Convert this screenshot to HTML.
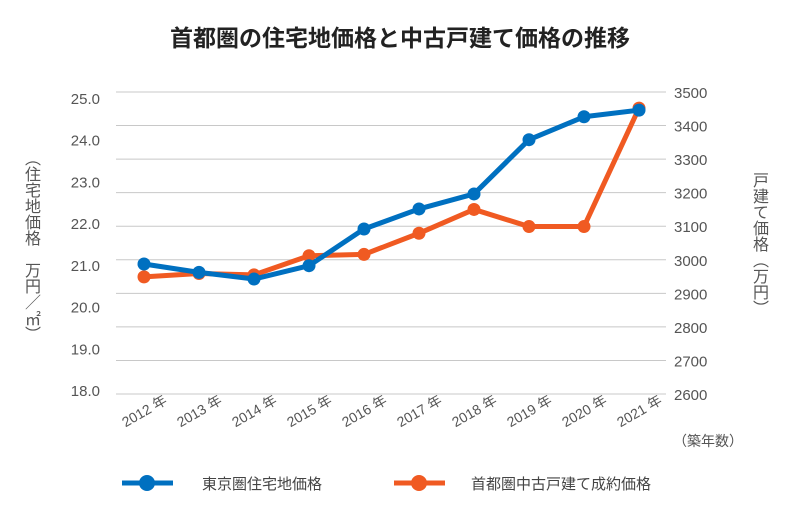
<!DOCTYPE html>
<html><head><meta charset="utf-8"><style>
body{margin:0;background:#fff;position:relative;width:800px;height:510px;overflow:hidden;}
svg text{font-family:"Liberation Sans","Noto Sans CJK JP",sans-serif;}
.vt{position:absolute;writing-mode:vertical-rl;text-orientation:upright;font-family:"Liberation Sans","Noto Sans CJK JP",sans-serif;color:#555;font-size:16px;line-height:20px;white-space:nowrap;}
</style></head><body>
<svg width="800" height="510" viewBox="0 0 800 510" style="position:absolute;left:0;top:0">
<text x="400" y="46" text-anchor="middle" font-size="23" font-weight="bold" fill="#222">首都圏の住宅地価格と中古戸建て価格の推移</text>
<g id="grid"></g>
<g id="ticks"></g>
<g id="series"></g>
<text x="708" y="446" text-anchor="middle" font-size="14" fill="#555">（築年数）</text>
<g>
<line x1="122" y1="483" x2="173" y2="483" stroke="#0070C0" stroke-width="5"/>
<circle cx="147" cy="483" r="8" fill="#0070C0"/>
<text x="202" y="489" font-size="15" fill="#444">東京圏住宅地価格</text></g>
<g>
<line x1="394" y1="483" x2="445" y2="483" stroke="#F05A22" stroke-width="5"/>
<circle cx="419" cy="483" r="8" fill="#F05A22"/>
<text x="471" y="489" font-size="15" fill="#444">首都圏中古戸建て成約価格</text></g>
</svg>
<div class="vt" style="left:20px;top:150px;">（住宅地価格　万円／㎡）</div>
<div class="vt" style="left:748px;top:172px;">戸建て価格（万円）</div>
<script>
const years=["2012 年","2013 年","2014 年","2015 年","2016 年","2017 年","2018 年","2019 年","2020 年","2021 年"];
const landPrice=[21.02,20.82,20.66,20.98,21.86,22.34,22.70,24.0,24.55,24.71];
const housePrice=[2949,2959,2955,3012,3016,3079,3150,3099,3099,3452];
const leftTicks=[18,19,20,21,22,23,24,25];
const rightTicks=[2600,2700,2800,2900,3000,3100,3200,3300,3400,3500];
const NS="http://www.w3.org/2000/svg";
const X0=116,X1=666,Y0=394,Y1=92;
const LY0=390,LY1=98;
const xp=i=>144+i*(639-144)/(years.length-1);
const yl=v=>LY0-(v-18)/(25-18)*(LY0-LY1);
const yr=v=>Y0-(v-2600)/(3500-2600)*(Y0-Y1);
function mk(t,a,p){const e=document.createElementNS(NS,t);for(const k in a)e.setAttribute(k,a[k]);p.appendChild(e);return e;}
const grid=document.getElementById('grid'),ticks=document.getElementById('ticks'),ser=document.getElementById('series');
rightTicks.forEach(v=>{
 const l=mk('line',{x1:X0,x2:X1,y1:yr(v),y2:yr(v),stroke:'#c8c8c8','stroke-width':1},grid);
 
 
 const t=mk('text',{x:674,y:yr(v)+6,'font-size':15,fill:'#555'},ticks);
 t.textContent=v;
 
 
});
leftTicks.forEach(v=>{
 const t=mk('text',{x:100,y:yl(v)+6,'text-anchor':'end','font-size':15,fill:'#555'},ticks);
 t.textContent=v.toFixed(1);
 
 
});
years.forEach((y,i)=>{
 const t=mk('text',{transform:`translate(${xp(i)+24},${403}) rotate(-30)`,'text-anchor':'end','font-size':14,fill:'#555'},ticks);
 t.textContent=y;
 
 
});
function draw(vals,f,color,name){
 const pts=vals.map((v,i)=>xp(i)+','+f(v)).join(' ');
 const pl=mk('polyline',{points:pts,fill:'none',stroke:color,'stroke-width':5,'stroke-linejoin':'round'},ser);
 
 
 vals.forEach((v,i)=>{
  const c=mk('circle',{cx:xp(i),cy:f(v),r:6.5,fill:color},ser);
  
  
 });
}
draw(housePrice,yr,'#F05A22','house-price');
draw(landPrice,yl,'#0070C0','land-price');
</script>
</body></html>
